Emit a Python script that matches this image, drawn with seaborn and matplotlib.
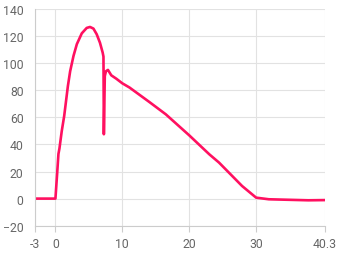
import matplotlib
matplotlib.use("Agg")
import matplotlib.pyplot as plt
import seaborn as sns
import pandas as pd

x_vals = [-3, 0, 0.25, 0.45, 0.6, 0.95, 1.31, 1.56, 1.86, 2.2, 2.7, 3.2, 3.94,
          4.68, 5.17, 5.68, 6.17, 6.66, 7.06, 7.18, 7.24, 7.38, 7.55, 7.85,
          8.35, 9.1, 10, 11.07, 14.04, 16.5, 20, 23, 24.45, 27.9, 30, 31.9,
          37.8, 40.3]
y_vals = [0, 0, 18, 33, 37, 50, 61, 71, 83, 94, 105.3, 114, 122,
          126, 126.7, 125.5, 121.3, 115, 107.8, 104.8, 47.5, 90.5, 94, 95,
          91, 88.5, 85.1, 82, 71.3, 62.2, 46.7, 32.7, 26.6, 9.3, 0.7, -0.5,
          -1.25, -1.1]
x_ticks = [-3, 0, 10, 20, 30, 40.3]
x_tick_labels = ["-3", "0", "10", "20", "30", "40.3"]
y_ticks = [-20, 0, 20, 40, 60, 80, 100, 120, 140]

df = pd.DataFrame({"x": x_vals, "y": y_vals})

sns.set_theme(style="white")
plt.rcParams['font.family'] = ['Roboto', 'DejaVu Sans']

fig = plt.figure(figsize=(3.4, 2.55), dpi=100)
ax = fig.add_axes([0.104, 0.111, 0.852, 0.850])

sns.lineplot(data=df, x="x", y="y", ax=ax, color="#FF1060", linewidth=1.9,
             sort=False, estimator=None)

ax.set_xlim(-3, 40.3)
ax.set_ylim(-20, 140)
ax.set_xticks(x_ticks)
ax.set_xticklabels(x_tick_labels)
ax.set_yticks(y_ticks)
ax.set_xlabel("")
ax.set_ylabel("")

ax.grid(True, color="#e2e2e2", linewidth=0.8)
ax.set_axisbelow(True)
for s in ["top", "right"]:
    ax.spines[s].set_visible(False)
for s in ["left", "bottom"]:
    ax.spines[s].set_visible(True)
    ax.spines[s].set_color("#cccccc")
    ax.spines[s].set_linewidth(0.8)

ax.tick_params(axis="x", length=4, width=0.8, color="#cccccc", pad=4,
               labelsize=8.8, labelcolor="#666666", bottom=True)
ax.tick_params(axis="y", length=0, pad=8.5, labelsize=8.8, labelcolor="#666666")

fig.savefig("out.png", dpi=100)
